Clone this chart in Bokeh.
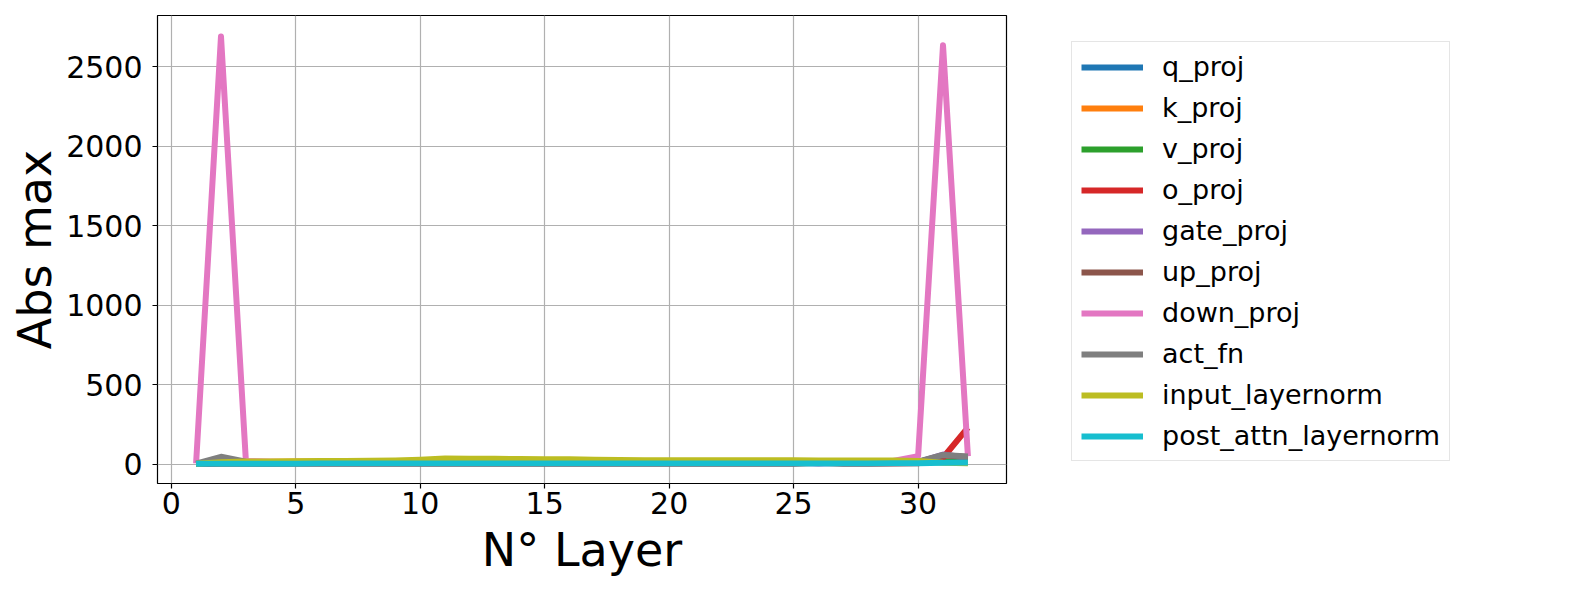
from bokeh.plotting import figure
from bokeh.layouts import row
from bokeh.models import Range1d, Legend, LegendItem, FixedTicker
from bokeh.embed import file_html
from bokeh.resources import INLINE

layers = list(range(1, 33))

q_proj = [3, 8, 10, 10, 12, 12, 12, 12, 14, 14, 15, 15, 15, 15, 15, 15, 14, 14, 13, 13, 13, 13, 13, 13, 13, 12, 12, 13, 14, 15, 20, 15]
k_proj = [4, 10, 15, 15, 16, 16, 17, 17, 17, 18, 18, 18, 18, 18, 18, 18, 17, 17, 17, 16, 16, 16, 17, 17, 16, 16, 16, 17, 17, 18, 22, 18]
v_proj = [2, 5, 6, 6, 7, 7, 7, 8, 8, 8, 8, 8, 8, 8, 8, 8, 8, 8, 8, 8, 8, 8, 8, 8, 8, 8, 8, 8, 9, 10, 15, 12]
o_proj = [1, 3, 2, 2, 3, 3, 3, 3, 3, 3, 3, 3, 3, 3, 3, 3, 3, 3, 3, 3, 3, 3, 3, 3, 3, 8, 3, 3, 4, 5, 40, 230]
gate_proj = [2, 8, 6, 6, 7, 7, 7, 7, 7, 8, 8, 8, 8, 8, 8, 8, 8, 8, 8, 8, 8, 8, 8, 8, 8, 8, 8, 8, 9, 12, 60, 40]
up_proj = [2, 10, 6, 6, 7, 7, 7, 7, 7, 8, 8, 8, 8, 8, 8, 8, 8, 8, 8, 8, 8, 8, 8, 8, 8, 8, 8, 8, 9, 12, 55, 45]
down_proj = [5, 2690, 20, 15, 12, 12, 12, 12, 12, 12, 12, 12, 12, 12, 12, 12, 12, 12, 12, 12, 12, 12, 12, 12, 12, 2, 10, 12, 20, 50, 2635, 50]
act_fn = [3, 46, 15, 10, 10, 10, 10, 10, 10, 10, 10, 10, 10, 10, 10, 10, 10, 10, 10, 10, 10, 10, 10, 10, 10, 10, 10, 10, 12, 15, 58, 48]
input_layernorm = [2, 12, 16, 17, 18, 19, 20, 21, 23, 28, 36, 33, 33, 32, 30, 30, 28, 26, 25, 24, 24, 24, 25, 24, 24, 23, 22, 22, 22, 20, 8, 6]
post_attn_layernorm = [2, 3, 3, 3, 3, 4, 4, 4, 4, 4, 4, 4, 4, 4, 4, 4, 4, 4, 4, 4, 4, 4, 4, 4, 4, 4, 4, 4, 5, 5, 8, 10]

series_names = ["q_proj", "k_proj", "v_proj", "o_proj", "gate_proj", "up_proj",
                "down_proj", "act_fn", "input_layernorm", "post_attn_layernorm"]
series_values = [q_proj, k_proj, v_proj, o_proj, gate_proj, up_proj,
                 down_proj, act_fn, input_layernorm, post_attn_layernorm]
colors = ["#1f77b4", "#ff7f0e", "#2ca02c", "#d62728", "#9467bd",
          "#8c564b", "#e377c2", "#7f7f7f", "#bcbd22", "#17becf"]

x_ticks = [0, 5, 10, 15, 20, 25, 30]
y_ticks = [0, 500, 1000, 1500, 2000, 2500]

FONT = "DejaVu Sans"

# ---- main chart ----
p = figure(width=1016, height=592, output_backend="svg", toolbar_location=None,
           x_range=Range1d(-0.55, 33.55), y_range=Range1d(-122, 2822),
           min_border_left=157, min_border_right=10, min_border_top=15,
           min_border_bottom=109)

p.background_fill_color = "white"
p.border_fill_color = "white"
p.outline_line_color = "black"
p.outline_line_width = 1.2
p.outline_line_alpha = 1.0

for ax in (p.xaxis[0], p.yaxis[0]):
    ax.major_label_text_font = FONT
    ax.major_label_text_font_size = "30px"
    ax.major_label_text_color = "black"
    ax.axis_label_text_font = FONT
    ax.axis_label_text_font_size = "46px"
    ax.axis_label_text_font_style = "normal"
    ax.axis_label_text_color = "black"
    ax.axis_line_color = None
    ax.major_tick_line_color = "black"
    ax.major_tick_line_width = 1.2
    ax.major_tick_out = 5
    ax.major_tick_in = 0
    ax.minor_tick_line_color = None

p.xaxis.ticker = FixedTicker(ticks=x_ticks)
p.yaxis.ticker = FixedTicker(ticks=y_ticks)
p.xaxis.axis_label = "N° Layer"
p.yaxis.axis_label = "Abs max"
p.yaxis.major_label_standoff = 10
p.yaxis.axis_label_standoff = 1
p.xaxis.major_label_standoff = 3
p.xaxis.axis_label_standoff = 6

p.grid.grid_line_color = "#b0b0b0"
p.grid.grid_line_width = 1.2
p.xgrid.ticker = FixedTicker(ticks=x_ticks)
p.ygrid.ticker = FixedTicker(ticks=y_ticks)

for name, vals, c in zip(series_names, series_values, colors):
    p.line(layers, vals, line_color=c, line_width=6, line_join="round")

# ---- legend panel (same series, lines kept outside its view) ----
p2 = figure(width=562, height=592, output_backend="svg", toolbar_location=None,
            x_axis_type=None, y_axis_type=None,
            x_range=Range1d(100, 101), y_range=Range1d(-10000, -9000),
            min_border=0)
p2.outline_line_color = None
p2.grid.visible = False
p2.background_fill_color = "white"
p2.border_fill_color = "white"

items = []
for name, vals, c in zip(series_names, series_values, colors):
    r = p2.line(layers, vals, line_color=c, line_width=6)
    items.append(LegendItem(label=name, renderers=[r]))

legend = Legend(items=items, location=(55, 22))
legend.label_text_font = FONT
legend.label_text_font_size = "27px"
legend.label_text_color = "black"
legend.glyph_width = 62
legend.glyph_height = 30
legend.label_height = 30
legend.spacing = 10
legend.padding = 9
legend.label_standoff = 19
legend.margin = 0
legend.border_line_color = "#cccccc"
legend.border_line_width = 1.2
legend.background_fill_color = "white"
legend.background_fill_alpha = 0.8
legend.inactive_fill_alpha = 0.0
p2.add_layout(legend, "center")

layout = row(p, p2, spacing=0)
open("out.html", "w").write(file_html(layout, INLINE))
